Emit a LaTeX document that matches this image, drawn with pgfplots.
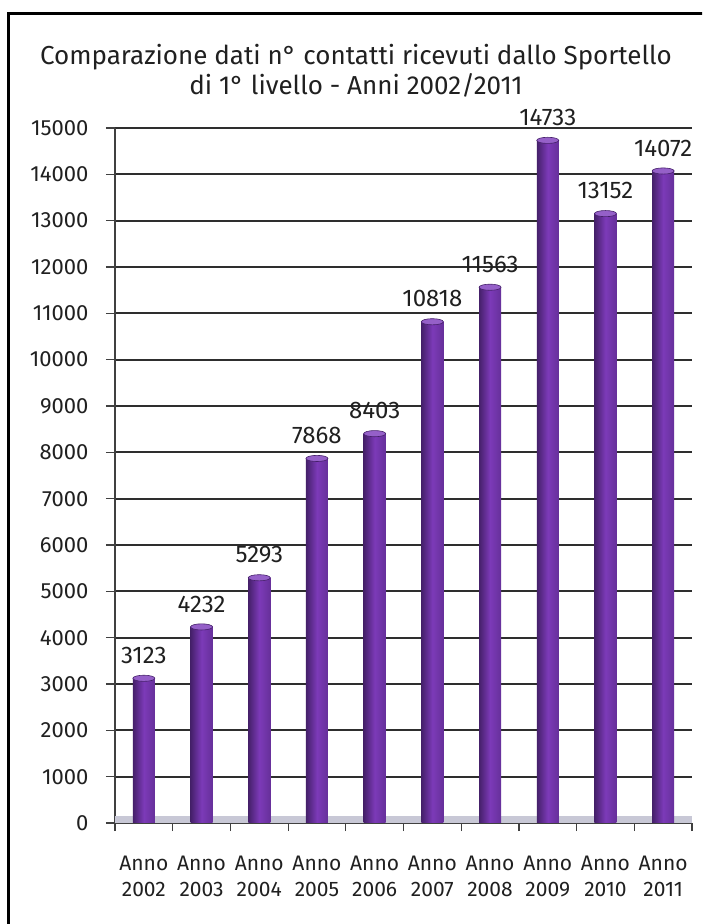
\documentclass[border=0pt]{standalone}
\usepackage{pgfplots}
\pgfplotsset{compat=1.18}
\usepackage{fontspec}
\setmainfont{Fira Sans}
\definecolor{barDark}{HTML}{45206A}
\definecolor{barMid}{HTML}{7C3AB8}
\definecolor{barRight}{HTML}{66309A}
\definecolor{barCap}{HTML}{9560C8}
\definecolor{txt}{HTML}{202020}
\definecolor{floorc}{HTML}{C8C8D6}
\pgfplotsset{
  onebar/.style={ybar, bar width=22pt, bar shift=0pt, draw=none,
    left color=barDark, right color=barRight, middle color=barMid,
    nodes near coords,
    every node near coord/.append style={font=\fontsize{24}{26}\selectfont, text=txt, anchor=south, yshift=11pt}},
}
\begin{document}
\begin{tikzpicture}
\path[use as bounding box] (0pt,0pt) rectangle (702pt,924pt);
\clip (0pt,0pt) rectangle (702pt,924pt);
\fill[white] (0pt,0pt) rectangle (702pt,924pt);
\draw[line width=3.5pt, black] (8.5pt,-20pt) -- (8.5pt,910.5pt) -- (730pt,910.5pt);
\node[anchor=base, font=\fontsize{26}{30}\selectfont, text=txt, inner sep=0pt] at (356pt,859pt) {Comparazione dati n° contatti ricevuti dallo Sportello};
\node[anchor=base, font=\fontsize{26}{30}\selectfont, text=txt, inner sep=0pt] at (356pt,829pt) {di 1° livello - Anni 2002/2011};
\begin{axis}[
  at={(115pt,101pt)}, anchor=south west,
  scale only axis, width=577pt, height=695pt,
  xmin=-0.5, xmax=9.5, ymin=0, ymax=15000,
  axis lines*=left,
  axis line style={line width=1.6pt, color=black!75},
  /pgf/number format/assume math mode=true,
  /pgf/number format/1000 sep={},
  scaled y ticks=false,
  ytick={0,1000,...,15000},
  tick align=outside,
  major tick length=9pt,
  minor tick length=8pt,
  tick style={line width=1.2pt, color=black!75},
  yticklabel style={font=\fontsize{22}{24}\selectfont, text=txt, xshift=-14pt},
  xtick={0,...,9},
  xticklabels={{Anno\\2002},{Anno\\2003},{Anno\\2004},{Anno\\2005},{Anno\\2006},{Anno\\2007},{Anno\\2008},{Anno\\2009},{Anno\\2010},{Anno\\2011}},
  xticklabel style={font=\fontsize{21}{26}\selectfont, text=txt, align=center, yshift=-20pt},
  major x tick style={draw=none},
  minor xtick={-0.5,0.5,...,9.5},
  ymajorgrids,
  major grid style={line width=2pt, color=black!82},
  clip=false,
]
\fill[floorc] (axis cs:-0.5,0) rectangle (axis cs:9.5,160);
\addplot[onebar] coordinates {(0,3123)};
\addplot[onebar] coordinates {(1,4232)};
\addplot[onebar] coordinates {(2,5293)};
\addplot[onebar] coordinates {(3,7868)};
\addplot[onebar] coordinates {(4,8403)};
\addplot[onebar] coordinates {(5,10818)};
\addplot[onebar] coordinates {(6,11563)};
\addplot[onebar] coordinates {(7,14733)};
\addplot[onebar] coordinates {(8,13152)};
\addplot[onebar] coordinates {(9,14072)};
\addplot[only marks, mark=*, mark size=11pt,
  mark options={yscale=0.28, fill=barCap, draw=barDark, line width=0.6pt}]
  coordinates {(0,3123) (1,4232) (2,5293) (3,7868) (4,8403) (5,10818) (6,11563) (7,14733) (8,13152) (9,14072)};
\end{axis}
\end{tikzpicture}
\end{document}
